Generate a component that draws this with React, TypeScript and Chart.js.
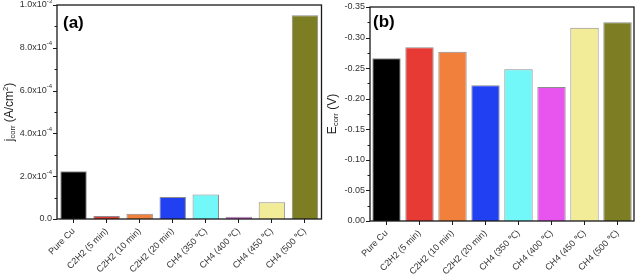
import { useEffect, useRef } from 'react';
import { Chart, registerables } from 'chart.js';
Chart.register(...registerables);

const categories = ['Pure Cu', 'C2H2 (5 min)', 'C2H2 (10 min)', 'C2H2 (20 min)', 'CH4 (350 ℃)', 'CH4 (400 ℃)', 'CH4 (450 ℃)', 'CH4 (500 ℃)'];
const jcorr = [2.23e-4, 1.4e-5, 2.5e-5, 1.03e-4, 1.14e-4, 1.1e-5, 7.8e-5, 9.52e-4];
const ecorr = [-0.266, -0.284, -0.277, -0.222, -0.248, -0.219, -0.316, -0.325];
const barColors = ['#000000', '#e83a35', '#f0803c', '#2040f2', '#72f8f8', '#e855ee', '#f2ec98', '#7d7d24'];
const jTicks = [0, 2e-4, 4e-4, 6e-4, 8e-4, 1e-3];
const jTickBase = ['0.0', '2.0x10', '4.0x10', '6.0x10', '8.0x10', '1.0x10'];
const jTickExp = ['', '-4', '-4', '-4', '-4', '-3'];
const jMinor = [1e-4, 3e-4, 5e-4, 7e-4, 9e-4];
const eTicks = [0, -0.05, -0.1, -0.15, -0.2, -0.25, -0.3, -0.35];
const eTickBase = ['0.00', '-0.05', '-0.10', '-0.15', '-0.20', '-0.25', '-0.30', '-0.35'];
const eMinor = [-0.025, -0.075, -0.125, -0.175, -0.225, -0.275, -0.325];

const FONT = '"Liberation Sans", Arial, sans-serif';

type Part = { t: string; size: number; dy: number };

function makePlugin(cfg: {
  ticks: number[]; base: string[]; exp: string[]; minor: number[];
  title: Part[]; titleX: number; label: string; labelX: number; labelY: number;
}) {
  return {
    id: 'panel',
    afterDraw(chart: any) {
      const ctx = chart.ctx;
      const a = chart.chartArea;
      const ys = chart.scales.y;
      ctx.save();
      ctx.strokeStyle = '#1a1a1a';
      ctx.lineWidth = 1.3;
      ctx.strokeRect(a.left, a.top, a.right - a.left, a.bottom - a.top);
      ctx.lineWidth = 1;
      ctx.beginPath();
      cfg.ticks.forEach((v) => {
        const y = Math.round(ys.getPixelForValue(v)) + 0.5;
        ctx.moveTo(a.left - 4, y); ctx.lineTo(a.left, y);
      });
      cfg.minor.forEach((v) => {
        const y = Math.round(ys.getPixelForValue(v)) + 0.5;
        ctx.moveTo(a.left - 2.5, y); ctx.lineTo(a.left, y);
      });
      ctx.stroke();
      ctx.fillStyle = '#333';
      ctx.textBaseline = 'middle';
      ctx.textAlign = 'left';
      cfg.ticks.forEach((v, i) => {
        const y = ys.getPixelForValue(v);
        ctx.font = `9px ${FONT}`;
        const wb = ctx.measureText(cfg.base[i]).width;
        ctx.font = `6px ${FONT}`;
        const we = cfg.exp[i] ? ctx.measureText(cfg.exp[i]).width : 0;
        const x0 = a.left - 5 - wb - we;
        ctx.font = `9px ${FONT}`;
        ctx.fillText(cfg.base[i], x0, y);
        if (cfg.exp[i]) {
          ctx.font = `6px ${FONT}`;
          ctx.fillText(cfg.exp[i], x0 + wb, y - 4);
        }
      });
      ctx.save();
      ctx.translate(cfg.titleX, (a.top + a.bottom) / 2);
      ctx.rotate(-Math.PI / 2);
      let total = 0;
      cfg.title.forEach((p) => { ctx.font = `${p.size}px ${FONT}`; total += ctx.measureText(p.t).width; });
      let x = -total / 2;
      ctx.fillStyle = '#222';
      cfg.title.forEach((p) => {
        ctx.font = `${p.size}px ${FONT}`;
        ctx.fillText(p.t, x, p.dy);
        x += ctx.measureText(p.t).width;
      });
      ctx.restore();
      ctx.fillStyle = '#000';
      ctx.font = `bold 17px ${FONT}`;
      ctx.textBaseline = 'alphabetic';
      ctx.fillText(cfg.label, cfg.labelX, cfg.labelY);
      ctx.restore();
    },
  };
}

function Panel(props: {
  left: number; width: number; data: number[]; barPct: number;
  yMin: number; yMax: number; reverse: boolean; yWidth: number; xHeight: number;
  padTop: number; padRight: number; plugin: any;
}) {
  const ref = useRef<HTMLCanvasElement>(null);
  useEffect(() => {
    const chart = new Chart(ref.current!, {
      type: 'bar',
      data: {
        labels: categories,
        datasets: [{
          data: props.data,
          backgroundColor: barColors,
          borderColor: '#8c8c8c',
          borderWidth: 1,
          categoryPercentage: 1,
          barPercentage: props.barPct,
        }],
      },
      options: {
        animation: false,
        responsive: false,
        devicePixelRatio: 1,
        layout: { padding: { top: props.padTop, right: props.padRight, left: 0, bottom: 0 } },
        plugins: { legend: { display: false }, tooltip: { enabled: false } },
        scales: {
          x: {
            grid: { display: true, drawOnChartArea: false, drawTicks: true, tickLength: 4, color: '#1a1a1a', offset: false },
            border: { display: false },
            ticks: { autoSkip: false, minRotation: 45, maxRotation: 45, padding: 3, color: '#333', font: { family: FONT, size: 9 } },
            afterFit: (s: any) => { s.height = props.xHeight; },
          },
          y: {
            min: props.yMin,
            max: props.yMax,
            reverse: props.reverse,
            grid: { display: false },
            border: { display: false },
            ticks: { display: false },
            afterFit: (s: any) => { s.width = props.yWidth; },
          },
        },
      },
      plugins: [props.plugin],
    });
    return () => chart.destroy();
  }, []);
  return (
    <canvas
      ref={ref}
      width={props.width}
      height={276}
      style={{ position: 'absolute', left: props.left, top: 0, width: props.width, height: 276 }}
    />
  );
}

const pluginA = makePlugin({
  ticks: jTicks, base: jTickBase, exp: jTickExp, minor: jMinor,
  title: [
    { t: 'j', size: 12, dy: 0 },
    { t: 'corr', size: 7.5, dy: 3 },
    { t: ' (A/cm', size: 12, dy: 0 },
    { t: '2', size: 7.5, dy: -4.5 },
    { t: ')', size: 12, dy: 0 },
  ],
  titleX: 10, label: '(a)', labelX: 63, labelY: 28,
});

const pluginB = makePlugin({
  ticks: eTicks, base: eTickBase, exp: eTickBase.map(() => ''), minor: eMinor,
  title: [
    { t: 'E', size: 12, dy: 0 },
    { t: 'corr', size: 7.5, dy: 3 },
    { t: ' (V)', size: 12, dy: 0 },
  ],
  titleX: 21, label: '(b)', labelX: 61, labelY: 27,
});

export default function App() {
  return (
    <div style={{ position: 'fixed', left: 0, top: 0, width: 637, height: 276, background: '#fff' }}>
      <Panel left={0} width={330} data={jcorr} barPct={0.8} yMin={0} yMax={1e-3} reverse={false}
        yWidth={57} xHeight={57} padTop={5} padRight={8.5} plugin={pluginA} />
      <Panel left={312} width={325} data={ecorr} barPct={0.86} yMin={-0.35} yMax={0} reverse={true}
        yWidth={58} xHeight={55} padTop={7} padRight={3} plugin={pluginB} />
    </div>
  );
}
